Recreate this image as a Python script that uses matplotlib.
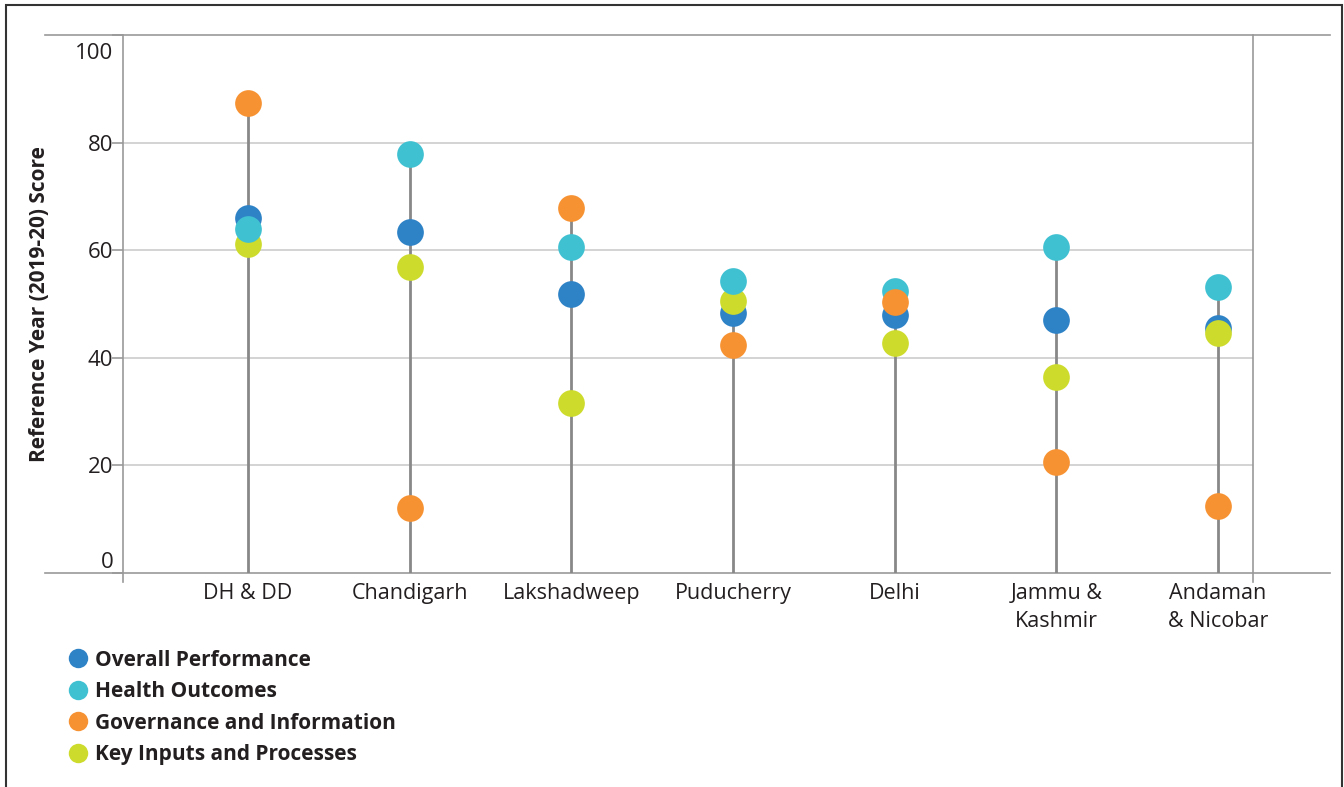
import matplotlib.pyplot as plt
import matplotlib.transforms as mtransforms
from matplotlib.lines import Line2D
from matplotlib.patches import Rectangle

plt.rcParams['font.family'] = ['Open Sans', 'DejaVu Sans']

# data
states = ['DH & DD', 'Chandigarh', 'Lakshadweep', 'Puducherry', 'Delhi',
          'Jammu &\nKashmir', 'Andaman\n& Nicobar']
overall = [66.0, 63.4, 51.9, 48.3, 48.0, 47.0, 45.5]
health = [63.9, 77.9, 60.6, 54.3, 52.4, 60.6, 53.2]
governance = [87.4, 12.1, 67.8, 42.4, 50.4, 20.6, 12.5]
key_inputs = [61.2, 56.9, 31.6, 50.6, 42.8, 36.4, 44.6]

c_overall = '#2E82C6'
c_health = '#40C1D2'
c_gov = '#F79232'
c_key = '#CDDC2C'

W, H = 1344, 787
fig = plt.figure(figsize=(W / 100, H / 100), dpi=100)
ax = fig.add_axes([123 / W, 1 - 573 / H, (1253 - 123) / W, (573 - 35) / H])

x = list(range(len(states)))
ax.set_xlim(-0.774, 6.217)
ax.set_ylim(0, 100)

# grid lines
for v in [20, 40, 60, 80]:
    ax.axhline(v, color='#cccccc', lw=1.2, zorder=0)
# frame lines sticking out past the plot area
ax.axhline(100, xmin=-0.069, xmax=1.068, color='#999999', lw=1.2, clip_on=False, zorder=1)
ax.axhline(0, xmin=-0.069, xmax=1.068, color='#999999', lw=1.2, clip_on=False, zorder=1)
ax.axvline(-0.774, ymin=-0.017, ymax=1, color='#999999', lw=1.2, clip_on=False, zorder=1)
ax.axvline(6.217, ymin=-0.017, ymax=1, color='#999999', lw=1.2, clip_on=False, zorder=1)
for s in ax.spines.values():
    s.set_visible(False)

# stems
tops = [max(a, b, c, d) for a, b, c, d in zip(overall, health, governance, key_inputs)]
ax.vlines(x, 0, tops, color='#888888', lw=2, zorder=2)

ms = 370
ax.scatter(x, overall, s=ms, color=c_overall, zorder=3, linewidths=0)
ax.scatter(x, key_inputs, s=ms, color=c_key, zorder=4, linewidths=0)
ax.scatter(x, health, s=ms, color=c_health, zorder=5, linewidths=0)
ax.scatter(x, governance, s=ms, color=c_gov, zorder=6, linewidths=0)

ax.set_xticks(x)
ax.set_xticklabels(states, fontsize=15.5, color='#231f20', linespacing=1.45)
ax.set_yticks([0, 20, 40, 60, 80, 100])
ax.set_yticklabels(['0', '20', '40', '60', '80', '100'], fontsize=16, color='#231f20')
ax.tick_params(axis='x', length=0, pad=7)
ax.tick_params(axis='y', length=8, width=1.2, color='#999999', pad=-1)
yl = ax.get_yticklabels()
yl[0].set_va('bottom')
yl[-1].set_va('top')
yl[-1].set_transform(yl[-1].get_transform() +
                     mtransforms.ScaledTranslation(0, -6 / 72, fig.dpi_scale_trans))
ax.set_ylabel('Reference Year (2019-20) Score', fontsize=15, fontweight='bold',
              color='#231f20')
ax.yaxis.set_label_coords(-0.0645, 0.5)

handles = [Line2D([], [], marker='o', ls='', markersize=14, color=c, markeredgewidth=0)
           for c in [c_overall, c_health, c_gov, c_key]]
labels = ['Overall Performance', 'Health Outcomes', 'Governance and Information',
          'Key Inputs and Processes']
leg = fig.legend(handles, labels, loc='upper left', bbox_to_anchor=(47 / W, 1 - 631 / H),
                 frameon=False, handletextpad=0.2, labelspacing=0.5, handlelength=1.2,
                 prop={'weight': 'bold', 'size': 15})
for t in leg.get_texts():
    t.set_color('#231f20')

# outer box
fig.add_artist(Rectangle((6 / W, -0.05), (1342 - 6) / W, 1.05 - 5 / H,
                         transform=fig.transFigure, fill=False, ec='#333333', lw=1.5))

fig.savefig('out.png', dpi=100)
